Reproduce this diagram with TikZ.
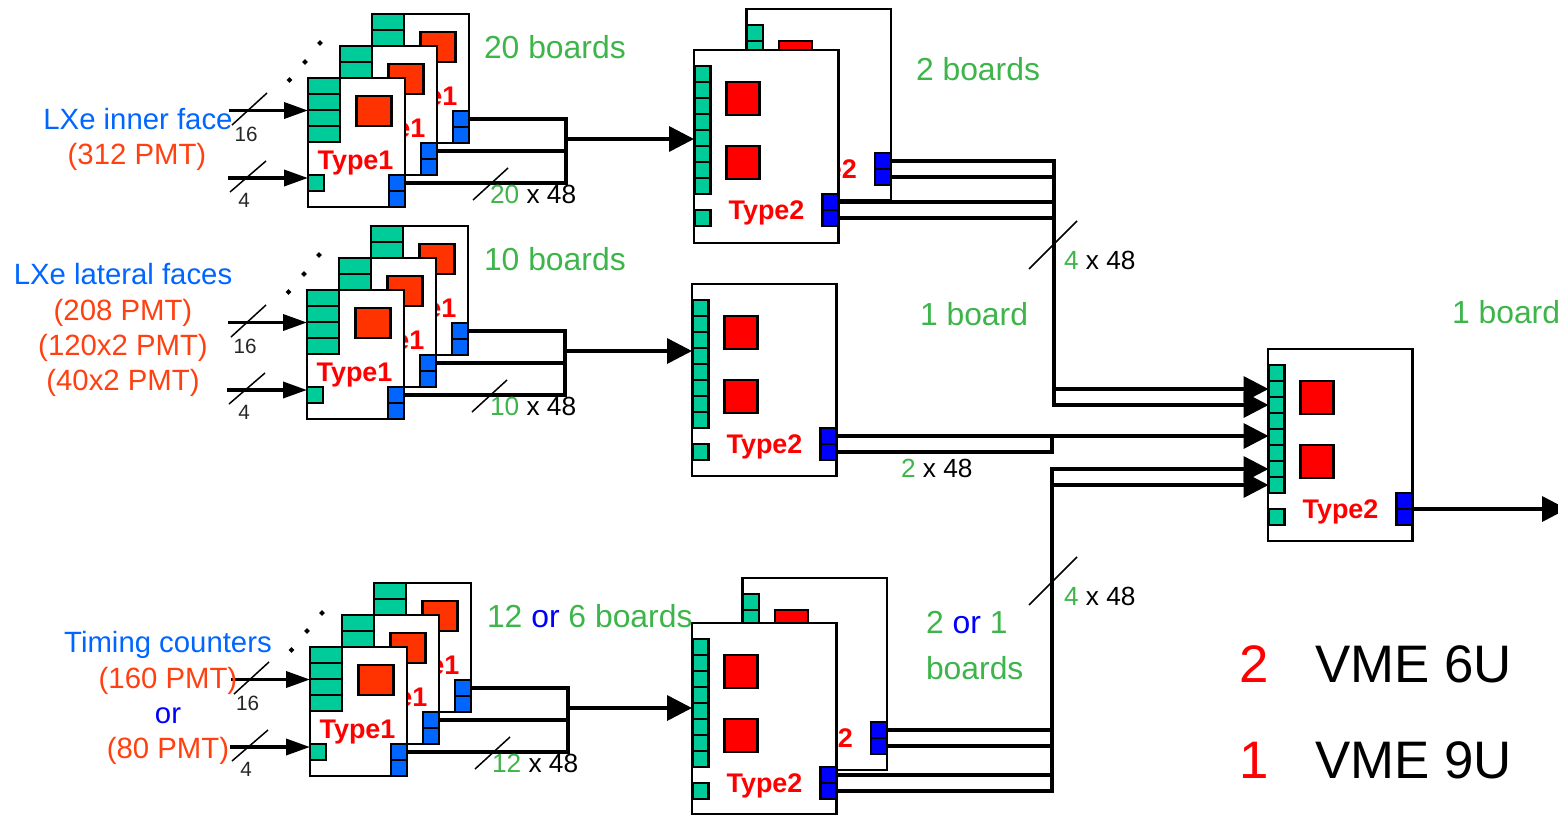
\documentclass[tikz,border=0pt]{standalone}
\usepackage{fontspec}
\setmainfont{Liberation Sans}
\usetikzlibrary{arrows.meta,shapes.geometric}
\definecolor{tgreen}{HTML}{3DB54A}
\definecolor{torange}{HTML}{FF4010}
\definecolor{tblue}{HTML}{0066FF}
\definecolor{pgreen}{HTML}{00CC99}
\definecolor{rorange}{HTML}{FF3300}
\definecolor{rred}{HTML}{FF0000}
\definecolor{pblue}{HTML}{0066FF}
\definecolor{qblue}{HTML}{0000FF}
\def\u{0.75pt}
\tikzset{
  cell/.style={draw=black,line width=2.5*\u,inner sep=0,outer sep=0,anchor=north west},
  board/.style={cell,fill=white},
  gport/.style={cell,fill=pgreen},
  oport/.style={cell,fill=rorange},
  rport/.style={cell,fill=rred},
  bport/.style={cell,fill=pblue},
  qport/.style={cell,fill=qblue},
  wire/.style={draw=black,line width=3.6*\u,line join=miter},
  thickwire/.style={draw=black,line width=4.6*\u},
  bigarrow/.style={wire,-{Triangle[length=25*\u,width=25*\u]},shorten >=0pt},
  smallarrow/.style={wire,-{Triangle[length=24*\u,width=16*\u]}},
  slash/.style={draw=black,line width=1.5*\u},
  dot/.style={diamond,fill=black,inner sep=0,minimum width=6*\u,minimum height=6*\u},
  txt/.style={inner sep=0,outer sep=0,anchor=base},
  ltxt/.style={inner sep=0,outer sep=0,anchor=base west},
  typelabel/.style={txt,text=rred,font=\bfseries\fontsize{20.2}{22}\selectfont},
  big/.style={font=\fontsize{23.9}{28}\selectfont},
  mid/.style={font=\fontsize{22}{26}\selectfont},
  small/.style={font=\fontsize{19.7}{23}\selectfont},
  tiny/.style={font=\fontsize{15.5}{18}\selectfont},
  huge/.style={font=\fontsize{39.6}{46}\selectfont},
}
\newcommand\cellat[6]{\node[#2,minimum width=#5*\u,minimum height=#6*\u] (#1) at ({#3},{#4}) {};}
% Type 1 board, top-left corner at (#2,#3)
\newcommand\typeone[3]{%
  \begin{scope}[shift={(#2,#3)}]
    \cellat{#1}{board}{0}{0}{97}{129}
    \cellat{#1-g1}{gport}{0}{0}{32}{16}
    \cellat{#1-g2}{gport}{0}{16}{32}{16}
    \cellat{#1-g3}{gport}{0}{32}{32}{16}
    \cellat{#1-g4}{gport}{0}{48}{32}{16}
    \cellat{#1-s}{gport}{0}{97}{16}{16}
    \cellat{#1-r}{oport}{48.5}{18}{35}{30}
    \cellat{#1-b1}{bport}{81}{97}{16}{16}
    \cellat{#1-b2}{bport}{81}{113}{16}{16}
    \node[typelabel] (#1-t) at (47.5,91) {Type1};
  \end{scope}}
% Type 2 board, top-left corner at (#2,#3), height #4
\newcommand\typetwo[4]{%
  \begin{scope}[shift={(#2,#3)}]
    \cellat{#1}{board}{0}{0}{144.5}{#4}
    \cellat{#1-g1}{gport}{0.5}{16}{16}{16}
    \cellat{#1-g2}{gport}{0.5}{32}{16}{16}
    \cellat{#1-g3}{gport}{0.5}{48}{16}{16}
    \cellat{#1-g4}{gport}{0.5}{64}{16}{16}
    \cellat{#1-g5}{gport}{0.5}{80}{16}{16}
    \cellat{#1-g6}{gport}{0.5}{96}{16}{16}
    \cellat{#1-g7}{gport}{0.5}{112}{16}{16}
    \cellat{#1-g8}{gport}{0.5}{128}{16}{16}
    \cellat{#1-s}{gport}{0.5}{160}{16}{16}
    \cellat{#1-r1}{rport}{32.5}{32}{33}{33}
    \cellat{#1-r2}{rport}{32.5}{96}{33}{33}
    \cellat{#1-b1}{qport}{128.5}{144}{16}{16}
    \cellat{#1-b2}{qport}{128.5}{160}{16}{16}
    \node[typelabel] (#1-t) at (72.5,169.5) {Type2};
  \end{scope}}
\begin{document}
\begin{tikzpicture}[x=0.75pt,y=-0.75pt]
\useasboundingbox (0,0) rectangle (1558,815);
\clip (0,0) rectangle (1558,815);

% ---- group 1
\typeone{a3}{372}{14}
\typeone{a2}{340}{46}
\typeone{a1}{308}{78}
\node[dot] (ad1) at (289.5,80) {};
\node[dot] (ad2) at (305,62) {};
\node[dot] (ad3) at (320,43) {};
\coordinate (ai1) at (229,110.5);
\coordinate (ai2) at (228,178);
\draw[smallarrow] (ai1) -- (ai1 -| a1.west);
\draw[smallarrow] (ai2) -- (ai2 -| a1.west);
\coordinate (aj) at (566,139);
\draw[wire] (a3-b1.east) -| (aj) |- (a1-b1.east);
\draw[wire] (a2-b1.east) -- (a2-b1.east -| aj);

% ---- group 2
\typeone{b3}{371}{226}
\typeone{b2}{339}{258}
\typeone{b1}{307}{290}
\node[dot] (bd1) at (288.5,292) {};
\node[dot] (bd2) at (304,274) {};
\node[dot] (bd3) at (319,255) {};
\coordinate (bi1) at (228,322.5);
\coordinate (bi2) at (227,390);
\draw[smallarrow] (bi1) -- (bi1 -| b1.west);
\draw[smallarrow] (bi2) -- (bi2 -| b1.west);
\coordinate (bj) at (565,351);
\draw[wire] (b3-b1.east) -| (bj) |- (b1-b1.east);
\draw[wire] (b2-b1.east) -- (b2-b1.east -| bj);

% ---- group 3
\typeone{c3}{374}{583}
\typeone{c2}{342}{615}
\typeone{c1}{310}{647}
\node[dot] (cd1) at (291.5,650) {};
\node[dot] (cd2) at (307,631) {};
\node[dot] (cd3) at (322,613) {};
\coordinate (ci1) at (231,679.5);
\coordinate (ci2) at (230,747);
\draw[smallarrow] (ci1) -- (ci1 -| c1.west);
\draw[smallarrow] (ci2) -- (ci2 -| c1.west);
\coordinate (cj) at (568,708);
\draw[wire] (c3-b1.east) -| (cj) |- (c1-b1.east);
\draw[wire] (c2-b1.east) -- (c2-b1.east -| cj);

% ---- Type 2 boards
\typetwo{d2}{746.5}{9}{191}
\typetwo{d1}{694}{50}{193}
\typetwo{e1}{692}{284}{192}
\typetwo{f2}{742.5}{578}{192}
\typetwo{f1}{692}{623}{191}
\typetwo{m}{1268}{349}{192}

% ---- collectors
\draw[bigarrow] (aj) -- (aj -| d1.west);
\draw[bigarrow] (bj) -- (bj -| e1.west);
\draw[bigarrow] (cj) -- (cj -| f1.west);

\coordinate (dv) at (1054,300);
\coordinate (fv) at (1052,600);
\coordinate (ev) at (1052,444);
\draw[wire] (d2-b1.east) -- (d2-b1.east -| dv);
\draw[wire] (d2-b2.east) -- (d2-b2.east -| dv);
\draw[wire] (d1-b1.east) -- (d1-b1.east -| dv);
\draw[wire] (d1-b2.east) -- (d1-b2.east -| dv);
\draw[thickwire,line cap=rect] (dv |- d2-b1.east) -- (dv |- m-g3.west);

\draw[wire] (e1-b2.east) -| (ev) |- (e1-b1.east);

\draw[wire] (f2-b1.east) -- (f2-b1.east -| fv);
\draw[wire] (f2-b2.east) -- (f2-b2.east -| fv);
\draw[wire] (f1-b1.east) -- (f1-b1.east -| fv);
\draw[wire] (f1-b2.east) -| (fv |- f2-b1.east);
\draw[thickwire,line cap=rect] (fv |- f2-b1.east) -- (fv |- m-g7.west);

\draw[bigarrow] (dv |- m-g2.west) -- (m-g2.west);
\draw[bigarrow] (dv |- m-g3.west) -- (m-g3.west);
\draw[bigarrow] (e1-b1.east) -- (e1-b1.east -| m-g5.west);
\draw[bigarrow] (fv |- m-g7.west) -- (m-g7.west);
\draw[bigarrow] (fv |- m-g8.west) -- (m-g8.west);

\coordinate (mo) at (1567,500);
\draw[wire,-{Triangle[length=25*\u,width=25*\u]}] (m-b1.south east) -- (m-b1.south east -| mo);

% ---- slashes
\coordinate (s1a) at (232,125); \coordinate (s1b) at (267,93);
\coordinate (s2a) at (230,192); \coordinate (s2b) at (266,161);
\coordinate (s3a) at (473,200); \coordinate (s3b) at (508,168);
\coordinate (s4a) at (231,337); \coordinate (s4b) at (266,305);
\coordinate (s5a) at (229,404); \coordinate (s5b) at (265,373);
\coordinate (s6a) at (472,412); \coordinate (s6b) at (507,380);
\coordinate (s7a) at (234,694); \coordinate (s7b) at (269,662);
\coordinate (s8a) at (232,761); \coordinate (s8b) at (268,730);
\coordinate (s9a) at (475,769); \coordinate (s9b) at (510,737);
\coordinate (s10a) at (1029,269); \coordinate (s10b) at (1077,221);
\coordinate (s11a) at (1029,605); \coordinate (s11b) at (1077,557);
\draw[slash] (s1a) -- (s1b);
\draw[slash] (s2a) -- (s2b);
\draw[slash] (s3a) -- (s3b);
\draw[slash] (s4a) -- (s4b);
\draw[slash] (s5a) -- (s5b);
\draw[slash] (s6a) -- (s6b);
\draw[slash] (s7a) -- (s7b);
\draw[slash] (s8a) -- (s8b);
\draw[slash] (s9a) -- (s9b);
\draw[slash] (s10a) -- (s10b);
\draw[slash] (s11a) -- (s11b);

% ---- small labels
\node[txt,tiny,text=black!85] (l16a) at (246,141) {16};
\node[txt,tiny,text=black!85] (l4a) at (244,207) {4};
\node[txt,tiny,text=black!85] (l16b) at (245,353) {16};
\node[txt,tiny,text=black!85] (l4b) at (244,419) {4};
\node[txt,tiny,text=black!85] (l16c) at (247.5,710) {16};
\node[txt,tiny,text=black!85] (l4c) at (246,776) {4};

\node[ltxt,small] (n1) at (490,203) {\textcolor{tgreen}{20} x 48};
\node[ltxt,small] (n2) at (490,415) {\textcolor{tgreen}{10} x 48};
\node[ltxt,small] (n3) at (492,772) {\textcolor{tgreen}{12} x 48};
\node[ltxt,small] (n4) at (1064,269) {\textcolor{tgreen}{4} x 48};
\node[ltxt,small] (n5) at (901,477) {\textcolor{tgreen}{2} x 48};
\node[ltxt,small] (n6) at (1064,605) {\textcolor{tgreen}{4} x 48};

% ---- board counts
\node[ltxt,big,text=tgreen] (c1l) at (484,58) {20 boards};
\node[ltxt,big,text=tgreen] (c2l) at (916,80) {2 boards};
\node[ltxt,big,text=tgreen] (c3l) at (484,270) {10 boards};
\node[ltxt,big,text=tgreen] (c4l) at (920,325) {1 board};
\node[ltxt,big,text=tgreen] (c5l) at (1452,323) {1 board};
\node[ltxt,big,text=tgreen] (c6l) at (487,627) {12 \textcolor{qblue}{or} 6 boards};
\node[ltxt,big,text=tgreen] (c7l) at (926,633) {2 \textcolor{qblue}{or} 1};
\node[ltxt,big,text=tgreen] (c8l) at (926,679) {boards};

% ---- detector labels
\node[txt,mid,text=tblue] (t1) at (138,129) {LXe inner face};
\node[txt,mid,text=torange] (t2) at (137,164) {(312 PMT)};
\node[txt,mid,text=tblue] (t3) at (123,284) {LXe lateral faces};
\node[txt,mid,text=torange] (t4) at (123,320) {(208 PMT)};
\node[txt,mid,text=torange] (t5) at (123,355) {(120x2 PMT)};
\node[txt,mid,text=torange] (t6) at (123,390) {(40x2 PMT)};
\node[txt,mid,text=tblue] (t7) at (168,652) {Timing counters};
\node[txt,mid,text=torange] (t8) at (168,688) {(160 PMT)};
\node[txt,mid,text=qblue] (t9) at (168,723) {or};
\node[txt,mid,text=torange] (t10) at (168,758) {(80 PMT)};

% ---- legend
\node[txt,huge,text=rred] (k1) at (1254,682) {2};
\node[ltxt,huge] (k2) at (1315,682) {VME 6U};
\node[txt,huge,text=rred] (k3) at (1254,778) {1};
\node[ltxt,huge] (k4) at (1315,778) {VME 9U};
\end{tikzpicture}
\end{document}
